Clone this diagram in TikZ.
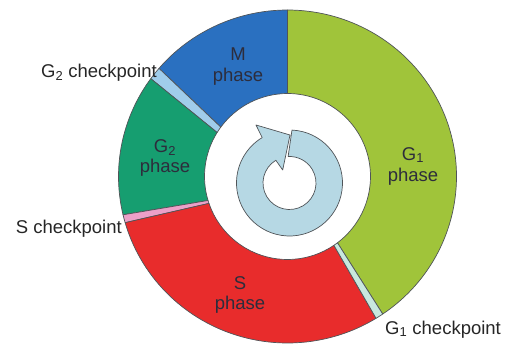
\documentclass[tikz,border=0pt]{standalone}
\usepackage{fontspec}
\setmainfont{Liberation Sans}
\definecolor{cM}{RGB}{42,112,192}
\definecolor{cGone}{RGB}{160,196,58}
\definecolor{cGtwo}{RGB}{22,158,112}
\definecolor{cS}{RGB}{232,44,44}
\definecolor{cGtwocp}{RGB}{160,205,235}
\definecolor{cScp}{RGB}{236,160,200}
\definecolor{cGonecp}{RGB}{200,232,222}
\definecolor{cArrow}{RGB}{182,216,228}
\definecolor{cEdge}{RGB}{80,84,88}
\definecolor{cTxt}{RGB}{45,45,60}
\newcommand\cyclesector[5]{%
  \filldraw[sector,fill=#1] (#2:169 and 166.5) arc[start angle=#2,end angle=#3,x radius=169,y radius=166.5]
    -- (#5:83) arc[start angle=#5,end angle=#4,radius=83] -- cycle;}
\begin{document}
\begin{tikzpicture}[x=1pt,y=1pt,
  font=\fontsize{18.5}{21}\selectfont,
  sector/.style={draw=cEdge,line width=0.7pt,line join=round},
  lbl/.style={inner sep=0pt,text=cTxt},
  outlbl/.style={inner sep=0pt,text=black!85}]
\useasboundingbox (0,0) rectangle (507,-349);
\begin{scope}[shift={(287.5,-176.5)}]
  \cyclesector{cGone}{-55.7}{90}{-53}{90}
  \cyclesector{cM}{90}{139.5}{90}{143.5}
  \cyclesector{cGtwocp}{139.5}{144}{143.5}{148}
  \cyclesector{cGtwo}{144}{193.3}{148}{196.8}
  \cyclesector{cScp}{193.3}{196.1}{196.8}{198.9}
  \cyclesector{cS}{196.1}{301.6}{198.9}{304}
  \cyclesector{cGonecp}{301.6}{304.3}{304}{307}
\end{scope}
\begin{scope}[shift={(289.5,-183)}]
  \filldraw[fill=cArrow,draw=cEdge,line width=0.7pt,line join=round]
    (87.3:53) arc[start angle=87.3,end angle=-239,radius=53]
    -- (120:67) -- (89.4:48) -- (117.6:14.7) -- (121:26.5)
    arc[start angle=-239,end angle=93,radius=26.5] -- cycle;
\end{scope}
\node[lbl,anchor=base] (mtop) at (238,-60) {M};
\node[lbl,anchor=base] (mbot) at (238,-81) {phase};
\node[lbl,anchor=base] (g2top) at (165,-152) {G\textsubscript{2}};
\node[lbl,anchor=base] (g2bot) at (165,-172) {phase};
\node[lbl,anchor=base] (g1top) at (413,-160) {G\textsubscript{1}};
\node[lbl,anchor=base] (g1bot) at (413,-181) {phase};
\node[lbl,anchor=base] (stop) at (240,-289) {S};
\node[lbl,anchor=base] (sbot) at (240,-309) {phase};
\node[outlbl,anchor=base east] (g2cp) at (157,-77) {G\textsubscript{2} checkpoint};
\node[outlbl,anchor=base east] (scp) at (122,-233) {S checkpoint};
\node[outlbl,anchor=base west] (g1cp) at (385,-334) {G\textsubscript{1} checkpoint};
\end{tikzpicture}
\end{document}
